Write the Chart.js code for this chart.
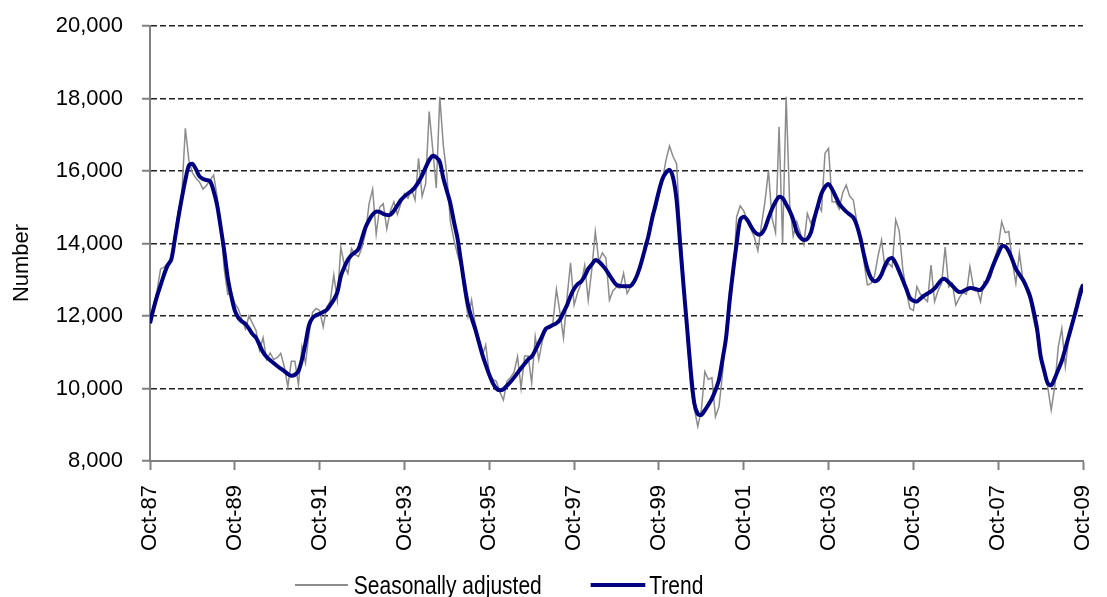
<!DOCTYPE html>
<html>
<head>
<meta charset="utf-8">
<script src="https://cdn.jsdelivr.net/npm/chart.js@4.4.0/dist/chart.umd.min.js"></script>
<style>
  html, body { margin: 0; padding: 0; background: #fff; }
  #wrap { position: relative; width: 1107px; height: 597px; }
  #legend {
    position: absolute; left: 295px; top: 569px; height: 32px;
    display: flex; align-items: center; white-space: nowrap;
    font-family: 'Liberation Sans', Arial, sans-serif;
    font-size: 25px; color: #000;
    transform: scaleX(0.84); transform-origin: 0 50%;
  }
  #legend .ln { display: inline-block; }
</style>
</head>
<body>
<div id="wrap">
  <canvas id="graficoEmprego" width="1107" height="597"></canvas>
  <div id="legend">
    <span class="ln" style="width:63px;height:2px;background:#8c8c8c;margin-right:7px"></span>
    <span>Seasonally adjusted</span>
    <span class="ln" style="width:65px;height:4px;background:#000080;margin-left:58px;margin-right:5px"></span>
    <span>Trend</span>
  </div>
</div>
<script>
const tickLabels = ['Oct-87', 'Oct-89', 'Oct-91', 'Oct-93', 'Oct-95', 'Oct-97',
                    'Oct-99', 'Oct-01', 'Oct-03', 'Oct-05', 'Oct-07', 'Oct-09'];

// monthly, Oct-87 .. Oct-09
const seasonallyAdjusted = [
    11750, 12300, 12700, 13300, 13350, 13450, 13600, 14250, 14850, 15350, 17180, 16300,
    15950, 15800, 15700, 15500, 15600, 15750, 15890, 15290, 14560, 13300, 12600, 12650,
    12350, 12200, 11900, 11640, 12000, 11800, 11600, 11060, 11400, 10800, 10980, 10800,
    10850, 10970, 10600, 10050, 10750, 10750, 10110, 11150, 10700, 11500, 12100, 12210,
    12150, 11700, 12250, 12400, 13130, 12440, 13900, 13400, 13175, 13865, 13700, 13636,
    13900, 14300, 15100, 15500, 14262, 15000, 15100, 14400, 14900, 15150, 14800, 15100,
    15380, 15250, 15500, 15200, 16350, 15300, 15650, 17640, 16600, 15530, 18050, 16700,
    15900, 14600, 14100, 13700, 13360, 12600, 11980, 12440, 11800, 11340, 10900, 11200,
    10418, 10250, 10200, 9900, 9680, 10200, 10300, 10450, 10880, 10010, 10900, 10900,
    10150, 11430, 10800, 11300, 11650, 11700, 11800, 12736, 12100, 11400, 12500, 13470,
    12300, 12650, 12900, 13400, 12440, 13270, 14326, 13500, 13740, 13600, 12440, 12700,
    12800, 12770, 13180, 12620, 12800, 12950, 13100, 13360, 14000, 14200, 14830, 14900,
    15300, 15750, 16300, 16690, 16400, 16200, 14450, 13100, 11400, 10000, 9450, 8950,
    9400, 10465, 10250, 10300, 9220, 9500, 10400, 11600, 12700, 12993, 14740, 15035,
    14900, 14650, 14400, 14180, 13800, 14500, 15150, 16010, 14700, 14300, 17220, 14000,
    18050, 15100, 14200, 14600, 14300, 13970, 14830, 14560, 14790, 15100, 14900, 16488,
    16625, 15150, 15150, 14950, 15400, 15614, 15300, 15200, 14600, 14200, 13500, 12855,
    12900, 13100, 13650, 14100, 13300, 13450, 13350, 14650, 14350, 13300, 12700, 12210,
    12150, 12810, 12600, 12500, 12400, 13407, 12400, 12700, 12900, 13900, 12800, 12900,
    12300, 12500, 12650, 12600, 13360, 12800, 12750, 12400, 12950, 12900, 13100, 13600,
    13900, 14600, 14300, 14330, 13500, 12900, 13730, 13000, 12700, 12440, 11900, 11476,
    10800, 10400, 10050, 9407, 10050, 11150, 11660, 10600, 11400, 11900, 12300, 12750,
    12900
];

const trend = [
    11800, 12200, 12550, 12850, 13150, 13400, 13550, 14100, 14700, 15250, 15750, 16150,
    16200, 16050, 15850, 15780, 15750, 15720, 15450, 15050, 14450, 13800, 13050, 12550,
    12150, 11950, 11850, 11780, 11650, 11500, 11400, 11200, 11000, 10870, 10780, 10700,
    10620, 10550, 10480, 10400, 10350, 10380, 10480, 10800, 11250, 11750, 11950, 12020,
    12060, 12110, 12170, 12300, 12450, 12650, 13100, 13350, 13550, 13680, 13750, 13850,
    14150, 14450, 14650, 14800, 14880, 14870, 14820, 14790, 14790, 14900, 15050, 15200,
    15300, 15380, 15450, 15550, 15700, 15880, 16100, 16300, 16420, 16380, 16250, 15800,
    15450, 15100, 14600, 14150, 13500, 12850, 12300, 11950, 11650, 11300, 10950, 10650,
    10380, 10150, 10000, 9950, 9980, 10080, 10180, 10300, 10430, 10560, 10680, 10800,
    10880, 11050, 11250, 11450, 11650, 11700, 11750, 11800, 11900, 12100, 12300, 12550,
    12750, 12880, 12950, 13100, 13300, 13420, 13540, 13500, 13400, 13280, 13130, 12980,
    12860, 12830, 12820, 12820, 12830, 12950, 13170, 13470, 13830, 14190, 14650, 15050,
    15450, 15780, 15950, 16030, 15820, 15200, 14000, 12800, 11650, 10500, 9600, 9300,
    9270, 9400, 9550, 9720, 9950, 10250, 10800, 11400, 12400, 13250, 14000, 14650,
    14740, 14650, 14480, 14330, 14250, 14270, 14420, 14700, 14950, 15150, 15290, 15250,
    15080, 14900, 14660, 14330, 14170, 14100, 14130, 14300, 14700, 15050, 15380, 15560,
    15640, 15500, 15300, 15100, 14980, 14880, 14800, 14720, 14500, 14150, 13700, 13300,
    13050, 12960, 13000, 13150, 13400, 13560, 13600, 13450, 13230, 12990, 12750, 12500,
    12420, 12400, 12480, 12560, 12620, 12680, 12760, 12880, 13000, 13020, 12930, 12840,
    12730, 12660, 12680, 12730, 12770, 12760, 12730, 12720, 12830, 13000, 13250, 13500,
    13720, 13920, 13920, 13780, 13550, 13300, 13150, 13000, 12800, 12550, 12150, 11650,
    10900, 10500, 10150, 10090, 10280, 10520, 10760, 11100, 11450, 11800, 12150, 12530,
    12870
];

const fonte = "'Liberation Sans', Arial, sans-serif";

// titulo do eixo Y desenhado a mao para acertar a posicao
const tituloY = {
    id: 'tituloY',
    afterDraw(chart) {
        const ctx = chart.ctx;
        ctx.save();
        ctx.translate(22, 263);
        ctx.rotate(-Math.PI / 2);
        ctx.font = '22px ' + fonte;
        ctx.fillStyle = '#000';
        ctx.textAlign = 'center';
        ctx.textBaseline = 'middle';
        ctx.fillText('Number', 0, 0);
        ctx.restore();
    }
};

new Chart(document.getElementById('graficoEmprego'), {
    type: 'line',
    data: {
        datasets: [{
            label: 'Trend',
            data: trend.map((v, i) => ({ x: i, y: v })),
            borderColor: '#000080',
            borderWidth: 4,
            pointRadius: 0,
            tension: 0.3,
            order: 0
        }, {
            label: 'Seasonally adjusted',
            data: seasonallyAdjusted.map((v, i) => ({ x: i, y: v })),
            borderColor: '#8c8c8c',
            borderWidth: 1.5,
            pointRadius: 0,
            tension: 0,
            order: 1
        }]
    },
    options: {
        responsive: false,
        animation: false,
        devicePixelRatio: 1,
        layout: { padding: { top: 26, right: 24, left: 0, bottom: 0 } },
        plugins: {
            legend: { display: false },
            tooltip: { enabled: false }
        },
        scales: {
            x: {
                type: 'linear',
                min: 0,
                max: 264,
                afterFit: scale => {
                    scale.height = 136;
                    scale.paddingLeft = 0;
                    scale.paddingRight = 0;
                },
                ticks: {
                    stepSize: 24,
                    autoSkip: false,
                    maxRotation: 90,
                    minRotation: 90,
                    padding: 15,
                    color: '#000',
                    font: { family: fonte, size: 22 },
                    callback: v => tickLabels[v / 24]
                },
                grid: {
                    drawOnChartArea: false,
                    drawTicks: true,
                    tickLength: 9,
                    tickColor: '#808080',
                    tickWidth: 2
                },
                border: { color: '#808080', width: 2 }
            },
            y: {
                min: 8000,
                max: 20000,
                afterFit: scale => {
                    scale.width = 150;
                    scale.paddingTop = 0;
                    scale.paddingBottom = 0;
                },
                ticks: {
                    stepSize: 2000,
                    padding: 19,
                    color: '#000',
                    font: { family: fonte, size: 22 },
                    callback: v => v.toLocaleString('en-US')
                },
                grid: {
                    color: c => (c.tick && c.tick.value === 8000) ? 'rgba(0,0,0,0)' : '#222',
                    lineWidth: 1.5,
                    tickLength: 8,
                    tickColor: '#808080',
                    tickWidth: 2,
                    tickBorderDash: []
                },
                border: { color: '#808080', width: 2, dash: [6, 3] }
            }
        }
    },
    plugins: [tituloY]
});
</script>
</body>
</html>
